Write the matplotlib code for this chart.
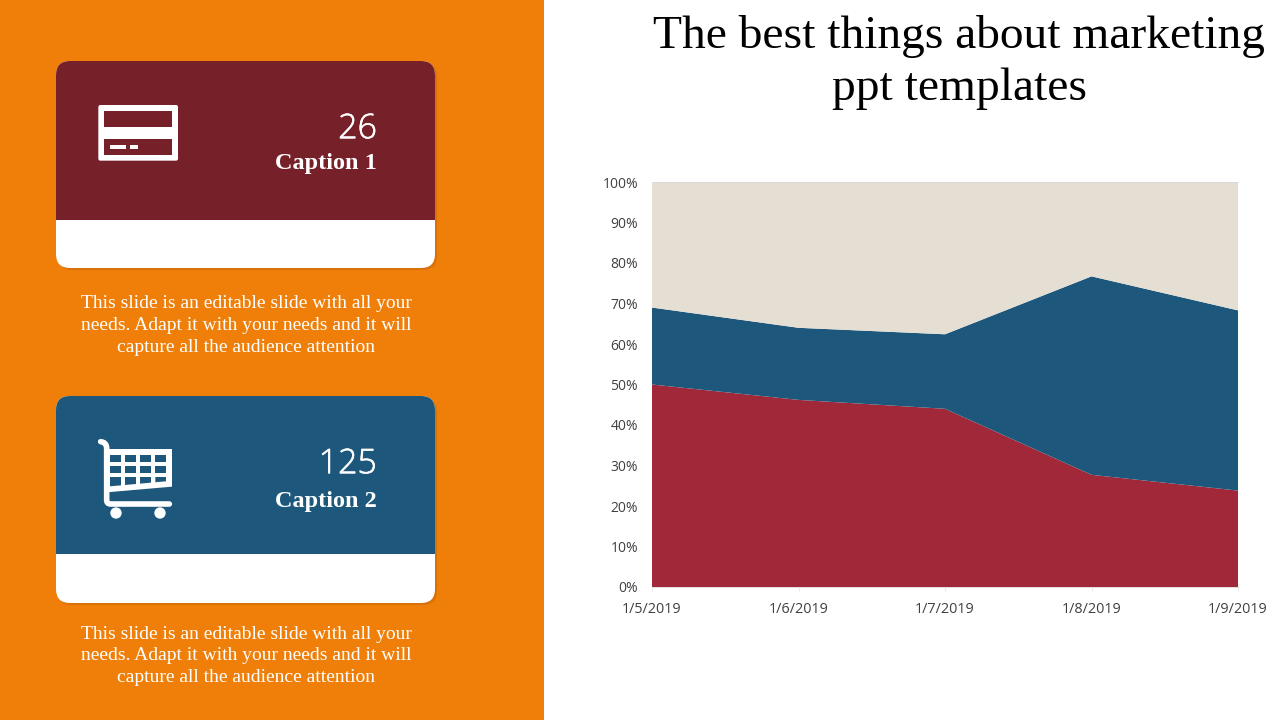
"""marketing slide with stacked area chart"""
import matplotlib
matplotlib.use('Agg')
import matplotlib.pyplot as plt
import matplotlib.patheffects as pe
from matplotlib.patches import Circle, FancyBboxPatch, PathPatch, Polygon, Rectangle
from matplotlib.path import Path
from matplotlib.ticker import FuncFormatter

DATES = ['1/5/2019', '1/6/2019', '1/7/2019', '1/8/2019', '1/9/2019']
RED_SHARE = [50.0, 46.2, 44.0, 27.7, 23.8]
BLUE_SHARE = [19.0, 17.8, 18.4, 49.0, 44.5]
BEIGE_SHARE = [31.0, 36.0, 37.6, 23.3, 31.7]

TITLE = 'The best things about marketing\nppt templates'
BODY = ('This slide is an editable slide with all your\n'
        'needs. Adapt it with your needs and it will\n'
        'capture all the audience attention')

ORANGE = '#F07F09'
MAROON = '#762029'
BLUE = '#1D587C'
RED = '#A02838'
BEIGE = '#E4DED3'
SERIF = 'Liberation Serif'
SANS = 'Open Sans'

fig = plt.figure(figsize=(12.8, 7.2), dpi=100, facecolor='white')

# background layer in pixel coordinates
bg = fig.add_axes([0, 0, 1, 1])
bg.set_xlim(0, 1280)
bg.set_ylim(720, 0)
bg.axis('off')
bg.add_patch(Rectangle((0, 0), 544, 720, color=ORANGE, lw=0))


def draw_card(top, band_bottom, color):
    """white rounded card with a coloured band on top"""
    bottom = top + 207
    box = 'round,pad=0,rounding_size=14'
    bg.add_patch(FancyBboxPatch((58, top + 2), 379, 207, boxstyle=box,
                                fc='#C96A08', ec='none', alpha=0.6, zorder=1))
    card = FancyBboxPatch((56, top), 379, bottom - top, boxstyle=box,
                          fc='white', ec='none', zorder=2)
    bg.add_patch(card)
    band = Rectangle((56, top), 379, band_bottom - top, fc=color, ec='none', zorder=3)
    bg.add_patch(band)
    band.set_clip_path(card)


def draw_card_icon(color):
    """credit card icon"""
    def px(x, y):
        return 40 + x / 3, 50 + y / 3

    def rect(x0, y0, x1, y1, fc):
        bg.add_patch(Rectangle(px(x0, y0), (x1 - x0) / 3, (y1 - y0) / 3,
                               fc=fc, ec='none', zorder=4))
    bg.add_patch(FancyBboxPatch(px(175, 165), 239 / 3, 167 / 3,
                                boxstyle='round,pad=0,rounding_size=2',
                                fc='white', ec='none', zorder=4))
    rect(192, 183, 396, 231, color)
    rect(192, 267, 396, 314, color)
    rect(210, 285, 258, 297, 'white')
    rect(270, 285, 294, 297, 'white')


def draw_cart_icon(color):
    """shopping cart icon"""
    def px(x, y):
        return 40 + x / 3, 385 + y / 3

    frame = Path([px(182, 170), px(200, 172), px(200, 190), px(200, 345), px(200, 357),
                  px(212, 357), px(388, 357)],
                 [Path.MOVETO, Path.CURVE3, Path.CURVE3, Path.LINETO, Path.CURVE3,
                  Path.CURVE3, Path.LINETO])
    bg.add_patch(PathPatch(frame, fc='none', ec='white', lw=5.6 * 0.72,
                           capstyle='round', zorder=4))
    basket = [px(200, 192), px(396, 192), px(396, 305), px(200, 322)]
    bg.add_patch(Polygon(basket, fc='white', ec='none', zorder=4))
    for x0, x1 in [(210, 243), (255, 288), (300, 333), (346, 378)]:
        for y0, y1 in [(210, 232), (243, 265)]:
            bg.add_patch(Rectangle(px(x0, y0), (x1 - x0) / 3, (y1 - y0) / 3,
                                   fc=color, ec='none', zorder=5))
        # last row follows the slanted bottom of the basket
        low0 = 304 - (x0 - 210) * 0.09
        low1 = 304 - (x1 - 210) * 0.09
        bg.add_patch(Polygon([px(x0, 276), px(x1, 276), px(x1, low1), px(x0, low0)],
                             fc=color, ec='none', zorder=5))
    for x in (228, 360):
        bg.add_patch(Circle(px(x, 384), 17 / 3, fc='white', ec='none', zorder=4))


draw_card(61, 220, MAROON)
draw_card(396, 554, BLUE)
draw_card_icon(MAROON)
draw_cart_icon(BLUE)

for y, label in [(129, '26'), (464, '125')]:
    bg.text(377, y, label, color='white', fontsize=24.5, family=SANS, fontweight='light',
            ha='right', va='center', zorder=6,
            path_effects=[pe.withStroke(linewidth=0.4, foreground='white')])
for y, label in [(164, 'Caption 1'), (502, 'Caption 2')]:
    bg.text(377, y, label, color='white', fontsize=17.5, family=SERIF, fontweight='bold',
            ha='right', va='center', zorder=6)
for y in (325.5, 656):
    bg.text(246, y, BODY, color='white', fontsize=14, family=SERIF, ha='center',
            va='center', linespacing=1.36, zorder=6)

bg.text(959, 62.5, TITLE, color='black', fontsize=34.2, family=SERIF, ha='center',
        va='center', linespacing=1.295)

# stacked area chart
ax = fig.add_axes([652 / 1280, 1 - 587 / 720, 586 / 1280, 405 / 720])
ax.patch.set_alpha(0)
ax.stackplot(range(len(DATES)), RED_SHARE, BLUE_SHARE, BEIGE_SHARE,
             colors=[RED, BLUE, BEIGE], lw=0)
ax.set_xlim(0, len(DATES) - 1)
ax.set_ylim(0, 100)
ax.set_yticks(range(0, 101, 10))
ax.yaxis.set_major_formatter(FuncFormatter(lambda v, pos: '%d%%' % v))
ax.set_xticks(range(len(DATES)))
ax.set_xticklabels(DATES)
ax.tick_params(axis='y', length=0, pad=10, labelsize=10, labelcolor='#404040')
ax.tick_params(axis='x', length=3, width=0.6, color='#E6E6E6', pad=8, labelsize=10.4,
               labelcolor='#404040')
for label in ax.get_xticklabels() + ax.get_yticklabels():
    label.set_family(SANS)
for side in ('left', 'right'):
    ax.spines[side].set_visible(False)
for side in ('top', 'bottom'):
    ax.spines[side].set_color('#D9D9D9')
    ax.spines[side].set_linewidth(0.6)

fig.savefig('out.png', dpi=100, facecolor='white')
